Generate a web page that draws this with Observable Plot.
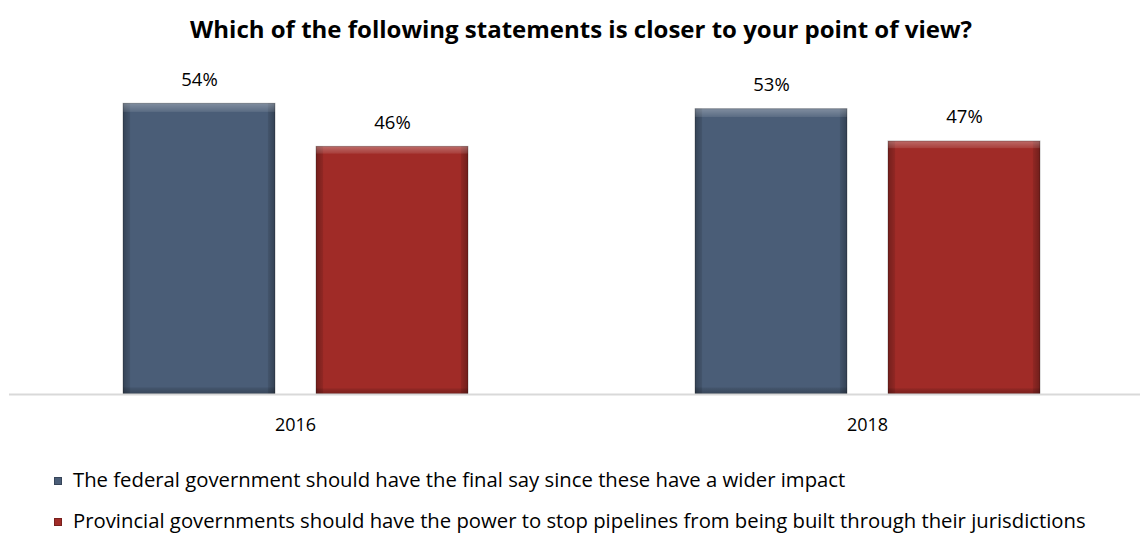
<!DOCTYPE html>
<html><head><meta charset="utf-8">
<script src="https://cdn.jsdelivr.net/npm/d3@7"></script>
<script src="https://cdn.jsdelivr.net/npm/@observablehq/plot@0.6"></script>
<style>
body{margin:0;background:#fff;font-family:"Open Sans", sans-serif;color:#000;width:1140px;height:536px;overflow:hidden;}
#title{height:60px;line-height:58px;text-align:center;font-weight:bold;font-size:24px;padding-left:22px;box-sizing:border-box;}
#chart svg{display:block;}
#legend{padding-top:9px;padding-left:54px;font-size:20.3px;}
.item{height:41px;line-height:41px;display:flex;align-items:center;}
.sw{width:8px;height:8px;margin-right:11px;margin-top:2px;box-shadow:inset 0 0 0 1px rgba(0,0,0,0.25);}
</style></head><body>
<div id="title">Which of the following statements is closer to your point of view?</div>
<div id="chart"></div>
<div id="legend"></div>
<script>
const years = ["2016", "2018"];
const series = [
  "The federal government should have the final say since these have a wider impact",
  "Provincial governments should have the power to stop pipelines from being built through their jurisdictions"
];
const federal = [54, 53];
const provincial = [46, 47];
const colors = ["#4a5d77", "#a02b27"];

const data = years.flatMap((y, i) => [
  {year: y, series: series[0], value: federal[i]},
  {year: y, series: series[1], value: provincial[i]}
]);

const chart = Plot.plot({
  width: 1140, height: 390,
  marginTop: 11, marginBottom: 56, marginLeft: 0, marginRight: 0,
  style: {fontFamily: "'Open Sans', sans-serif", fontSize: "18px", color: "#000", background: "#fff"},
  fx: {domain: years, range: [9, 1153], padding: 0, label: null},
  x: {domain: series, paddingInner: 0.214, paddingOuter: 0.585, axis: null},
  y: {domain: [0, 60], axis: null},
  color: {domain: series, range: colors},
  marks: [
    Plot.barY(data, {fx: "year", x: "series", y: "value", fill: "series"}),
    Plot.barY(data, {fx: "year", x: "series", y: "value", fill: "url(#bevelSide)"}),
    Plot.barY(data, {fx: "year", x: "series", y: "value", fill: "url(#bevelTop)", stroke: "#00000040", strokeWidth: 1}),
    Plot.ruleY([0], {stroke: "#d9d9d9", strokeWidth: 2}),
    Plot.text(data, {fx: "year", x: "series", y: "value", text: d => d.value + "%", dy: -24, fill: "#000", fontSize: 18.5}),
    Plot.axisFx({anchor: "bottom", tickSize: 0, tickPadding: 24, label: null, fontSize: 18, fill: "#000"})
  ]
});

// bevel gradients
const ns = "http://www.w3.org/2000/svg";
const defs = document.createElementNS(ns, "defs");
defs.innerHTML = `
  <linearGradient id="bevelSide" x1="0" y1="0" x2="1" y2="0">
    <stop offset="0" stop-color="#000" stop-opacity="0.28"/>
    <stop offset="0.045" stop-color="#000" stop-opacity="0.1"/>
    <stop offset="0.05" stop-color="#000" stop-opacity="0"/>
    <stop offset="0.95" stop-color="#000" stop-opacity="0"/>
    <stop offset="0.955" stop-color="#000" stop-opacity="0.1"/>
    <stop offset="1" stop-color="#000" stop-opacity="0.3"/>
  </linearGradient>
  <linearGradient id="bevelTop" x1="0" y1="0" x2="0" y2="1">
    <stop offset="0" stop-color="#fff" stop-opacity="0.3"/>
    <stop offset="0.028" stop-color="#fff" stop-opacity="0.1"/>
    <stop offset="0.03" stop-color="#fff" stop-opacity="0"/>
    <stop offset="0.975" stop-color="#000" stop-opacity="0"/>
    <stop offset="0.98" stop-color="#000" stop-opacity="0.1"/>
    <stop offset="1" stop-color="#000" stop-opacity="0.25"/>
  </linearGradient>`;
chart.insertBefore(defs, chart.firstChild);
document.getElementById("chart").appendChild(chart);

const legend = document.getElementById("legend");
series.forEach((s, i) => {
  const row = document.createElement("div");
  row.className = "item";
  const sw = document.createElement("span");
  sw.className = "sw";
  sw.style.background = colors[i];
  const t = document.createElement("span");
  t.textContent = s;
  row.appendChild(sw); row.appendChild(t);
  legend.appendChild(row);
});
</script>
</body></html>
